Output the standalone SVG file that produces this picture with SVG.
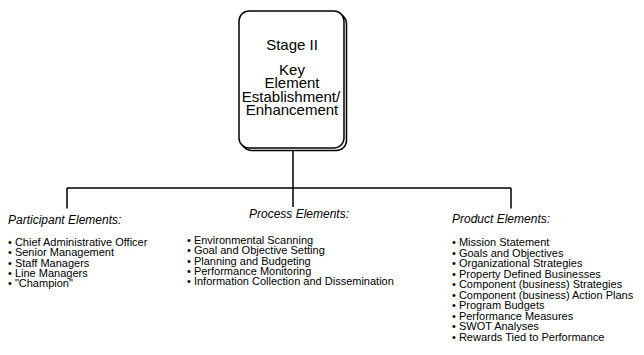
<svg xmlns="http://www.w3.org/2000/svg" width="644" height="355" viewBox="0 0 644 355">
<style>
.box{fill:#fff;stroke:#000;stroke-width:1.5}
.ln{stroke:#000;stroke-width:1.5;fill:none}
.t{font-family:"Liberation Sans",Arial,sans-serif;fill:#000}
.title{font-size:15px;text-anchor:middle}
.hd{font-size:12px;font-style:italic}
.li{font-size:11px}
</style>
<rect width="644" height="355" fill="#fff"/>
<g id="stage">
<rect class="box" x="241.5" y="13.5" width="105" height="137" rx="10"/>
<rect class="box" x="239" y="11" width="105" height="137" rx="10"/>
<text class="t title" x="292" y="50">Stage II</text>
<text class="t title" x="292" y="74.5">Key</text>
<text class="t title" x="292" y="88">Element</text>
<text class="t title" x="291" y="101.5">Establishment/</text>
<text class="t title" x="292" y="115">Enhancement</text>
</g>
<g id="connectors">
<path class="ln" d="M293 150.5V207M67 188H511M67 188V208.5M511 188V208.5"/>
</g>
<g id="participant">
<text class="t hd" x="8" y="224">Participant Elements:</text>
<text class="t li" x="8" y="246">• Chief Administrative Officer</text>
<text class="t li" x="8" y="256.3">• Senior Management</text>
<text class="t li" x="8" y="266.6">• Staff Managers</text>
<text class="t li" x="8" y="276.9">• Line Managers</text>
<text class="t li" x="8" y="287.2">• "Champion"</text>
</g>
<g id="process">
<text class="t hd" x="249" y="218">Process Elements:</text>
<text class="t li" x="187" y="244">• Environmental Scanning</text>
<text class="t li" x="187" y="254.3">• Goal and Objective Setting</text>
<text class="t li" x="187" y="264.6">• Planning and Budgeting</text>
<text class="t li" x="187" y="274.9">• Performance Monitoring</text>
<text class="t li" x="187" y="285.2">• Information Collection and Dissemination</text>
</g>
<g id="product">
<text class="t hd" x="452" y="223">Product Elements:</text>
<text class="t li" x="452" y="246">• Mission Statement</text>
<text class="t li" x="452" y="256.5">• Goals and Objectives</text>
<text class="t li" x="452" y="267">• Organizational Strategies</text>
<text class="t li" x="452" y="277.5">• Property Defined Businesses</text>
<text class="t li" x="452" y="288">• Component (business) Strategies</text>
<text class="t li" x="452" y="298.5">• Component (business) Action Plans</text>
<text class="t li" x="452" y="309">• Program Budgets</text>
<text class="t li" x="452" y="319.5">• Performance Measures</text>
<text class="t li" x="452" y="330">• SWOT Analyses</text>
<text class="t li" x="452" y="340.5">• Rewards Tied to Performance</text>
</g>
</svg>
